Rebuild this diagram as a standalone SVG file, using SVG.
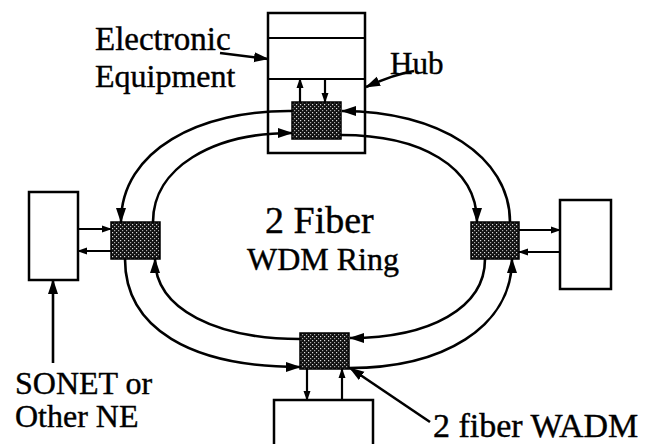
<svg xmlns="http://www.w3.org/2000/svg" width="647" height="444" viewBox="0 0 647 444">
<style>
.box{fill:#fff;stroke:#000;stroke-width:2.5}
.wadm{fill:url(#hatch);stroke:#000;stroke-width:1.5}
.ring{fill:none;stroke:#000;stroke-width:2.6;marker-end:url(#big)}
.short{fill:none;stroke:#000;stroke-width:2.2;marker-end:url(#small)}
.lbl{fill:none;stroke:#000;stroke-width:2.6;marker-end:url(#big)}
.t{font-family:"Liberation Serif","Times New Roman",serif;fill:#000;stroke:#000;stroke-width:0.4}
</style>
<defs>
<pattern id="hatch" width="4" height="4" patternUnits="userSpaceOnUse">
<rect width="4" height="4" fill="#111"/>
<rect x="0" y="0" width="1.2" height="1.2" fill="#ddd"/>
<rect x="2" y="2" width="1.2" height="1.2" fill="#aaa"/>
</pattern>
<marker id="big" markerUnits="userSpaceOnUse" markerWidth="16" markerHeight="12" refX="14" refY="5" orient="auto" viewBox="0 0 16 10">
<path d="M0,0 L15,5 L0,10 Z" fill="#000"/>
</marker>
<marker id="small" markerUnits="userSpaceOnUse" markerWidth="10" markerHeight="8" refX="9" refY="3.5" orient="auto" viewBox="0 0 10 7">
<path d="M0,0 L10,3.5 L0,7 Z" fill="#000"/>
</marker>
</defs>

<g id="hub">
<rect class="box" x="268" y="13" width="97" height="140"/>
<line x1="268" y1="38" x2="365" y2="38" stroke="#000" stroke-width="2"/>
<line x1="268" y1="79" x2="365" y2="79" stroke="#000" stroke-width="2"/>
</g>
<g id="hub-wadm"><rect class="wadm" x="292" y="102" width="49" height="37"/></g>
<g id="left-ne"><rect class="box" x="29" y="192" width="49" height="88"/></g>
<g id="left-wadm"><rect class="wadm" x="111" y="222" width="49" height="37"/></g>
<g id="right-ne"><rect class="box" x="560" y="200" width="51" height="89"/></g>
<g id="right-wadm"><rect class="wadm" x="471" y="222" width="48" height="37"/></g>
<g id="bottom-ne"><rect class="box" x="274" y="400" width="99" height="50"/></g>
<g id="bottom-wadm"><rect class="wadm" x="300" y="333" width="49" height="36"/></g>

<g id="connectors">
<path class="ring" d="M292 111 C 200 110, 121 150, 121 222"/>
<path class="ring" d="M153 222 C 153 168, 212 133, 292 133"/>
<path class="ring" d="M510 222 C 510 156, 438 111, 342 111"/>
<path class="ring" d="M341 135 C 420 135, 477 166, 477 222"/>
<path class="ring" d="M125 259 C 125 328, 190 367, 300 367"/>
<path class="ring" d="M300 339 C 218 339, 155 310, 155 259"/>
<path class="ring" d="M485 259 C 485 308, 430 338, 350 338"/>
<path class="ring" d="M349 368 C 442 368, 512 328, 512 259"/>

<path class="short" d="M78 229 H111"/>
<path class="short" d="M111 251 H78"/>
<path class="short" d="M519 230 H560"/>
<path class="short" d="M560 252 H519"/>
<path class="short" d="M300 102 V79"/>
<path class="short" d="M325 79 V102"/>
<path class="short" d="M307 369 V400"/>
<path class="short" d="M342 400 V369"/>

<path class="lbl" d="M53 363 V280"/>
<path class="lbl" d="M220 53 L268 59"/>
<path class="lbl" d="M414 71 Q 395 74 366 87"/>
<path class="lbl" d="M430 422 L350 368"/>
</g>

<g id="labels">
<text class="t" x="95" y="50" font-size="33">Electronic</text>
<text class="t" x="95" y="87" font-size="32">Equipment</text>
<text class="t" x="390" y="74" font-size="31">Hub</text>
<text class="t" x="265" y="233" font-size="38">2 Fiber</text>
<text class="t" x="247" y="270" font-size="32">WDM Ring</text>
<text class="t" x="15" y="394" font-size="32">SONET or</text>
<text class="t" x="15" y="427" font-size="32">Other NE</text>
<text class="t" x="433" y="437" font-size="34">2 fiber WADM</text>
</g>
</svg>
